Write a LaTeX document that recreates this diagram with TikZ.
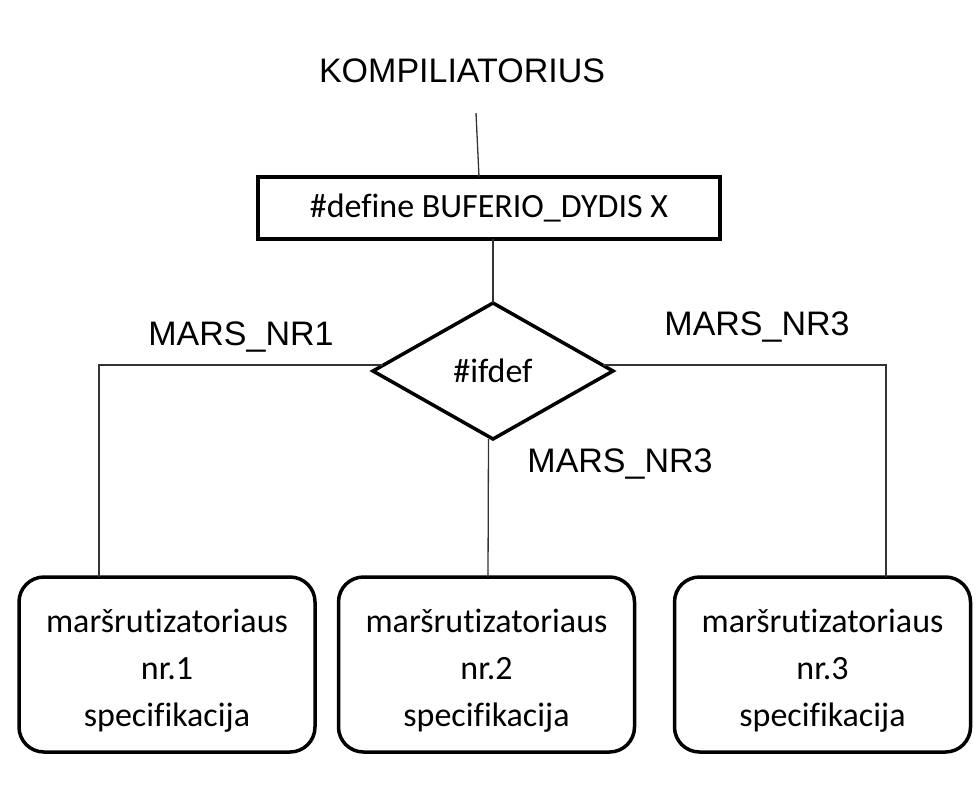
\documentclass[tikz,border=0pt]{standalone}
\usepackage{fontspec}
\setmainfont{Carlito}[Ligatures=CommonOff]
\newfontfamily\arialfont{Liberation Sans}
\usetikzlibrary{shapes.geometric,calc}
% three centred lines of a specification box, lowered a little in the box
\newcommand\speclines[3]{\raisebox{-6pt}[\height][\depth]{\begin{tabular}{@{}c@{}}#1\\#2\\#3\end{tabular}}}
\begin{document}
\begin{tikzpicture}[x=1pt,y=-1pt,
  every node/.style={inner sep=0pt,outer sep=0pt},
  conn/.style={draw=black!80,line width=1.3pt},
  label/.style={font=\arialfont\fontsize{34}{40}\selectfont,anchor=base},
  defbox/.style={draw,line width=3.2pt,minimum width=462pt,minimum height=62pt,
    font=\fontsize{34}{40}\selectfont},
  test/.style={draw,diamond,line width=3.5pt,minimum width=240pt,minimum height=136pt,
    aspect=1.76,font=\fontsize{34}{40}\selectfont},
  spec/.style={draw,line width=3.5pt,rounded corners=25pt,minimum width=296pt,
    minimum height=175pt,font=\fontsize{34}{47}\selectfont}]
\useasboundingbox[fill=white] (0,0) rectangle (976,789);

% headline and the compiler entry line
\node[label] (komp) at (462,83) {KOMPILIATORIUS};
\coordinate (kin) at (476,113);

% macro definition box
\node[defbox] (def) at (489,208) {\#define BUFERIO\_DYDIS X};

% branching test
\node[test] (dia) at (493,371) {\#ifdef};

% three router specifications
\node[spec] (b1) at (167,664.5) {\speclines{maršrutizatoriaus}{nr.1}{specifikacija}};
\node[spec] (b2) at (486.5,664.5) {\speclines{maršrutizatoriaus}{nr.2}{specifikacija}};
\node[spec] (b3) at (822.5,664.5) {\speclines{maršrutizatoriaus}{nr.3}{specifikacija}};

% branch labels
\node[label] (l1) at (241,345) {MARS\_NR1};
\node[label] (l3) at (757,335) {MARS\_NR3};
\node[label] (l2) at (620,472) {MARS\_NR3};

% connectors
\draw[conn] (kin) -- ($(def.north)+(-10,0)$);
\draw[conn] (dia.north) -- (dia.north |- def.south);
\draw[conn] ($(dia.west)+(10,-6)$) -| ($(b1.north)+(-68,0)$);
\draw[conn] ($(dia.east)+(-10,-6)$) -| ($(b3.north)+(63.5,0)$);
\draw[conn] ($(b2.north)+(1.5,0)$) -- ($(dia.south)+(-4.5,0)$);
\end{tikzpicture}
\end{document}
